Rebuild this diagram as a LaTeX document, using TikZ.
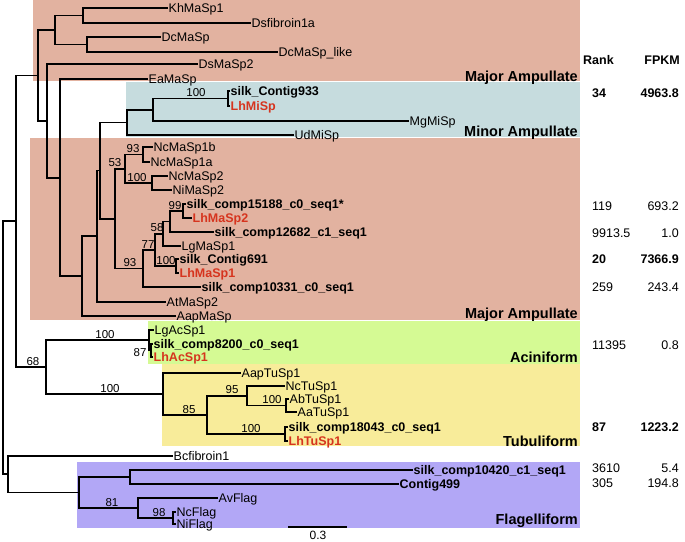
\documentclass[tikz,border=0pt]{standalone}
\usepackage{fontspec}
\setmainfont{Liberation Sans}
\definecolor{masalmon}{HTML}{E2B2A0}
\definecolor{miblue}{HTML}{C6DCDE}
\definecolor{acgreen}{HTML}{D5FA94}
\definecolor{tuyellow}{HTML}{F8EC9A}
\definecolor{flpurple}{HTML}{B2A7F6}
\definecolor{redlbl}{HTML}{D6341E}
\tikzset{
  br/.style={line width=1.8pt, line cap=rect},
  leaf/.style={anchor=west, inner xsep=1.5pt, inner ysep=0pt, font=\fontsize{12.5}{14}\selectfont, text height=9pt, text depth=0pt},
  bleaf/.style={leaf, font=\fontsize{12.5}{14}\selectfont\bfseries},
  rleaf/.style={bleaf, text=redlbl},
  bs/.style={anchor=south, inner sep=0pt, font=\fontsize{11.5}{13}\selectfont},
  grp/.style={anchor=east, inner sep=0pt, font=\fontsize{14.5}{16}\selectfont\bfseries, text height=10.4pt, text depth=0pt},
  num/.style={inner sep=0pt, font=\fontsize{12.5}{14}\selectfont, text height=9pt, text depth=0pt},
  bnum/.style={num, font=\fontsize{12.5}{14}\selectfont\bfseries},
}
\begin{document}
\begin{tikzpicture}[x=1pt,y=-1pt]
\useasboundingbox (0,0) rectangle (685,541);
% background boxes
\fill[masalmon] (33,0) rectangle (580,81);
\fill[miblue] (126,81.5) rectangle (580,137);
\fill[masalmon] (30,138) rectangle (580,320);
\fill[acgreen] (148,320.5) rectangle (580,364);
\fill[tuyellow] (162,364) rectangle (580,446);
\fill[flpurple] (77,462) rectangle (580,528);
% group labels
\node[grp] (gMA1) at (578,76) {Major Ampullate};
\node[grp] (gMI) at (578,131) {Minor Ampullate};
\node[grp] (gMA2) at (578,313) {Major Ampullate};
\node[grp] (gAC) at (578,357) {Aciniform};
\node[grp] (gTU) at (578,441) {Tubuliform};
\node[grp] (gFL) at (578,519) {Flagelliform};
% internal nodes
\coordinate (root) at (3,347.8);
\coordinate (n16) at (16,221.3);
\coordinate (M) at (38,75.4);
\coordinate (N) at (55,30);
\coordinate (O) at (83,15.5);
\coordinate (P) at (87,44.5);
\coordinate (L) at (47,120.8);
\coordinate (K) at (60,177.6);
\coordinate (J) at (82,276.1);
\coordinate (I) at (97,236.25);
\coordinate (H) at (100,170.5);
\coordinate (Q) at (127,122.4);
\coordinate (R) at (153,109.75);
\coordinate (S) at (228,98.5);
\coordinate (G) at (115,218.6);
\coordinate (n53) at (125,168.75);
\coordinate (n93a) at (143,154.5);
\coordinate (n100a) at (152,183);
\coordinate (F) at (143,268.4);
\coordinate (E) at (155,249.9);
\coordinate (C) at (163,233.75);
\coordinate (B) at (170,221.5);
\coordinate (A) at (183,211);
\coordinate (D) at (176,266);
\coordinate (n68) at (46,367.1);
\coordinate (Ac100) at (149,340.25);
\coordinate (Ac87) at (151,350.5);
\coordinate (Tu100) at (163,394);
\coordinate (n85) at (207,415.1);
\coordinate (n95) at (247,395.75);
\coordinate (nAbAa) at (286,405.5);
\coordinate (Tu100b) at (285,434);
\coordinate (n8) at (8,474.25);
\coordinate (Fl) at (79,492.5);
\coordinate (FlTop) at (130,477);
\coordinate (n81) at (138,508);
\coordinate (n98) at (173,518);
% leaves
\node[leaf] (KhMaSp1) at (167,8) {KhMaSp1};
\node[leaf] (Dsfib) at (250,23) {Dsfibroin1a};
\node[leaf] (DcMaSp) at (160,37) {DcMaSp};
\node[leaf] (DcLike) at (277,52) {DcMaSp\_like};
\node[leaf] (DsMaSp2) at (197,64) {DsMaSp2};
\node[leaf] (EaMaSp) at (147,79) {EaMaSp};
\node[bleaf] (C933) at (229,91) {silk\_Contig933};
\node[rleaf] (LhMiSp) at (229,106) {LhMiSp};
\node[leaf] (MgMiSp) at (408,121) {MgMiSp};
\node[leaf] (UdMiSp) at (293,135) {UdMiSp};
\node[leaf] (NcMaSp1b) at (152,147) {NcMaSp1b};
\node[leaf] (NcMaSp1a) at (149,162) {NcMaSp1a};
\node[leaf] (NcMaSp2) at (167,176) {NcMaSp2};
\node[leaf] (NiMaSp2) at (171,190) {NiMaSp2};
\node[bleaf] (c15188) at (185,204) {silk\_comp15188\_c0\_seq1*};
\node[rleaf] (LhMaSp2) at (191,218) {LhMaSp2};
\node[bleaf] (c12682) at (213,232) {silk\_comp12682\_c1\_seq1};
\node[leaf] (LgMaSp1) at (180,246) {LgMaSp1};
\node[bleaf] (C691) at (178,259) {silk\_Contig691};
\node[rleaf] (LhMaSp1) at (178,273) {LhMaSp1};
\node[bleaf] (c10331) at (200,287) {silk\_comp10331\_c0\_seq1};
\node[leaf] (AtMaSp2) at (165,302) {AtMaSp2};
\node[leaf] (AapMaSp) at (175,316) {AapMaSp};
\node[leaf] (LgAcSp1) at (153,330) {LgAcSp1};
\node[bleaf] (c8200) at (152,344) {silk\_comp8200\_c0\_seq1};
\node[rleaf] (LhAcSp1) at (152,357) {LhAcSp1};
\node[leaf] (AapTuSp1) at (240,373) {AapTuSp1};
\node[leaf] (NcTuSp1) at (284,386) {NcTuSp1};
\node[leaf] (AbTuSp1) at (288,399) {AbTuSp1};
\node[leaf] (AaTuSp1) at (296,412) {AaTuSp1};
\node[bleaf] (c18043) at (287,427) {silk\_comp18043\_c0\_seq1};
\node[rleaf] (LhTuSp1) at (287,441) {LhTuSp1};
\node[leaf] (Bcfib) at (172,456) {Bcfibroin1};
\node[bleaf] (c10420) at (412,470) {silk\_comp10420\_c1\_seq1};
\node[bleaf] (C499) at (398,484) {Contig499};
\node[leaf] (AvFlag) at (217,498) {AvFlag};
\node[leaf] (NcFlag) at (175,512) {NcFlag};
\node[leaf] (NiFlag) at (175,524) {NiFlag};
% branches
\draw[br] (root) |- (n16); \draw[br] (root) |- (n8);
\draw[br] (n16) |- (M); \draw[br] (n16) |- (n68);
\draw[br] (M) |- (N); \draw[br] (M) |- (L);
\draw[br] (N) |- (O); \draw[br] (N) |- (P);
\draw[br] (O) |- (KhMaSp1.west); \draw[br] (O) |- (Dsfib.west);
\draw[br] (P) |- (DcMaSp.west); \draw[br] (P) |- (DcLike.west);
\draw[br] (L) |- (DsMaSp2.west); \draw[br] (L) |- (K);
\draw[br] (K) |- (EaMaSp.west); \draw[br] (K) |- (J);
\draw[br] (J) |- (I); \draw[br] (J) |- (AapMaSp.west);
\draw[br] (I) |- (H); \draw[br] (I) |- (AtMaSp2.west);
\draw[br] (H) |- (Q); \draw[br] (H) |- (G);
\draw[br] (Q) |- (R); \draw[br] (Q) |- (UdMiSp.west);
\draw[br] (R) |- (S); \draw[br] (R) |- (MgMiSp.west);
\draw[br] (S) |- (C933.west); \draw[br] (S) |- (LhMiSp.west);
\draw[br] (G) |- (n53); \draw[br] (G) |- (F);
\draw[br] (n53) |- (n93a); \draw[br] (n53) |- (n100a);
\draw[br] (n93a) |- (NcMaSp1b.west); \draw[br] (n93a) |- (NcMaSp1a.west);
\draw[br] (n100a) |- (NcMaSp2.west); \draw[br] (n100a) |- (NiMaSp2.west);
\draw[br] (F) |- (E); \draw[br] (F) |- (c10331.west);
\draw[br] (E) |- (C); \draw[br] (E) |- (D);
\draw[br] (C) |- (B); \draw[br] (C) |- (LgMaSp1.west);
\draw[br] (B) |- (A); \draw[br] (B) |- (c12682.west);
\draw[br] (A) |- (c15188.west); \draw[br] (A) |- (LhMaSp2.west);
\draw[br] (D) |- (C691.west); \draw[br] (D) |- (LhMaSp1.west);
\draw[br] (n68) |- (Ac100); \draw[br] (n68) |- (Tu100);
\draw[br] (Ac100) |- (LgAcSp1.west); \draw[br] (Ac100) |- (Ac87);
\draw[br] (Ac87) |- (c8200.west); \draw[br] (Ac87) |- (LhAcSp1.west);
\draw[br] (Tu100) |- (AapTuSp1.west); \draw[br] (Tu100) |- (n85);
\draw[br] (n85) |- (n95); \draw[br] (n85) |- (Tu100b);
\draw[br] (n95) |- (NcTuSp1.west); \draw[br] (n95) |- (nAbAa);
\draw[br] (nAbAa) |- (AbTuSp1.west); \draw[br] (nAbAa) |- (AaTuSp1.west);
\draw[br] (Tu100b) |- (c18043.west); \draw[br] (Tu100b) |- (LhTuSp1.west);
\draw[br] (n8) |- (Bcfib.west); \draw[br] (n8) |- (Fl);
\draw[br] (Fl) |- (FlTop); \draw[br] (Fl) |- (n81);
\draw[br] (FlTop) |- (c10420.west); \draw[br] (FlTop) |- (C499.west);
\draw[br] (n81) |- (AvFlag.west); \draw[br] (n81) |- (n98);
\draw[br] (n98) |- (NcFlag.west); \draw[br] (n98) |- (NiFlag.west);
% bootstrap values
\node[bs] (bS) at (196,97) {100};
\node[bs] (b93a) at (133,153) {93};
\node[bs] (b53) at (115,167.3) {53};
\node[bs] (b100a) at (137,181.5) {100};
\node[bs] (bA) at (175,209.5) {99};
\node[bs] (bC) at (157,232.3) {58};
\node[bs] (bE) at (148,248.4) {77};
\node[bs] (bF) at (130,267) {93};
\node[bs] (bD) at (166,264.5) {100};
\node[bs] (b68) at (33,365.6) {68};
\node[bs] (bAc100) at (105,338.8) {100};
\node[bs] (bAc87) at (140,356.5) {87};
\node[bs] (bTu100) at (110,392.5) {100};
\node[bs] (b85) at (189,413.6) {85};
\node[bs] (b95) at (232,394.3) {95};
\node[bs] (bAbAa) at (272,404) {100};
\node[bs] (bTu100b) at (251,432.5) {100};
\node[bs] (b81) at (112,506.5) {81};
\node[bs] (b98) at (159,516.5) {98};
% scale bar
\coordinate (sbA) at (289,527);
\coordinate (sbB) at (346,527);
\draw[br] (sbA) -- (sbB);
\node[num, anchor=north, font=\fontsize{12}{13}\selectfont, text height=8.6pt] (sbl) at (318,530.5) {0.3};
% Rank / FPKM table
\node[bnum, anchor=west] (hRank) at (583,60) {Rank};
\node[bnum, anchor=east] (hFPKM) at (680,60) {FPKM};
\node[bnum, anchor=west] (r1) at (592,93) {34};
\node[bnum, anchor=east] (f1) at (679,93) {4963.8};
\node[num, anchor=west] (r2) at (592,206) {119};
\node[num, anchor=east] (f2) at (679,206) {693.2};
\node[num, anchor=west] (r3) at (592,233) {9913.5};
\node[num, anchor=east] (f3) at (679,233) {1.0};
\node[bnum, anchor=west] (r4) at (592,259) {20};
\node[bnum, anchor=east] (f4) at (679,259) {7366.9};
\node[num, anchor=west] (r5) at (592,287) {259};
\node[num, anchor=east] (f5) at (679,287) {243.4};
\node[num, anchor=west] (r6) at (592,345) {11395};
\node[num, anchor=east] (f6) at (679,345) {0.8};
\node[bnum, anchor=west] (r7) at (592,427) {87};
\node[bnum, anchor=east] (f7) at (679,427) {1223.2};
\node[num, anchor=west] (r8) at (592,468) {3610};
\node[num, anchor=east] (f8) at (679,468) {5.4};
\node[num, anchor=west] (r9) at (592,483) {305};
\node[num, anchor=east] (f9) at (679,483) {194.8};
\end{tikzpicture}
\end{document}
